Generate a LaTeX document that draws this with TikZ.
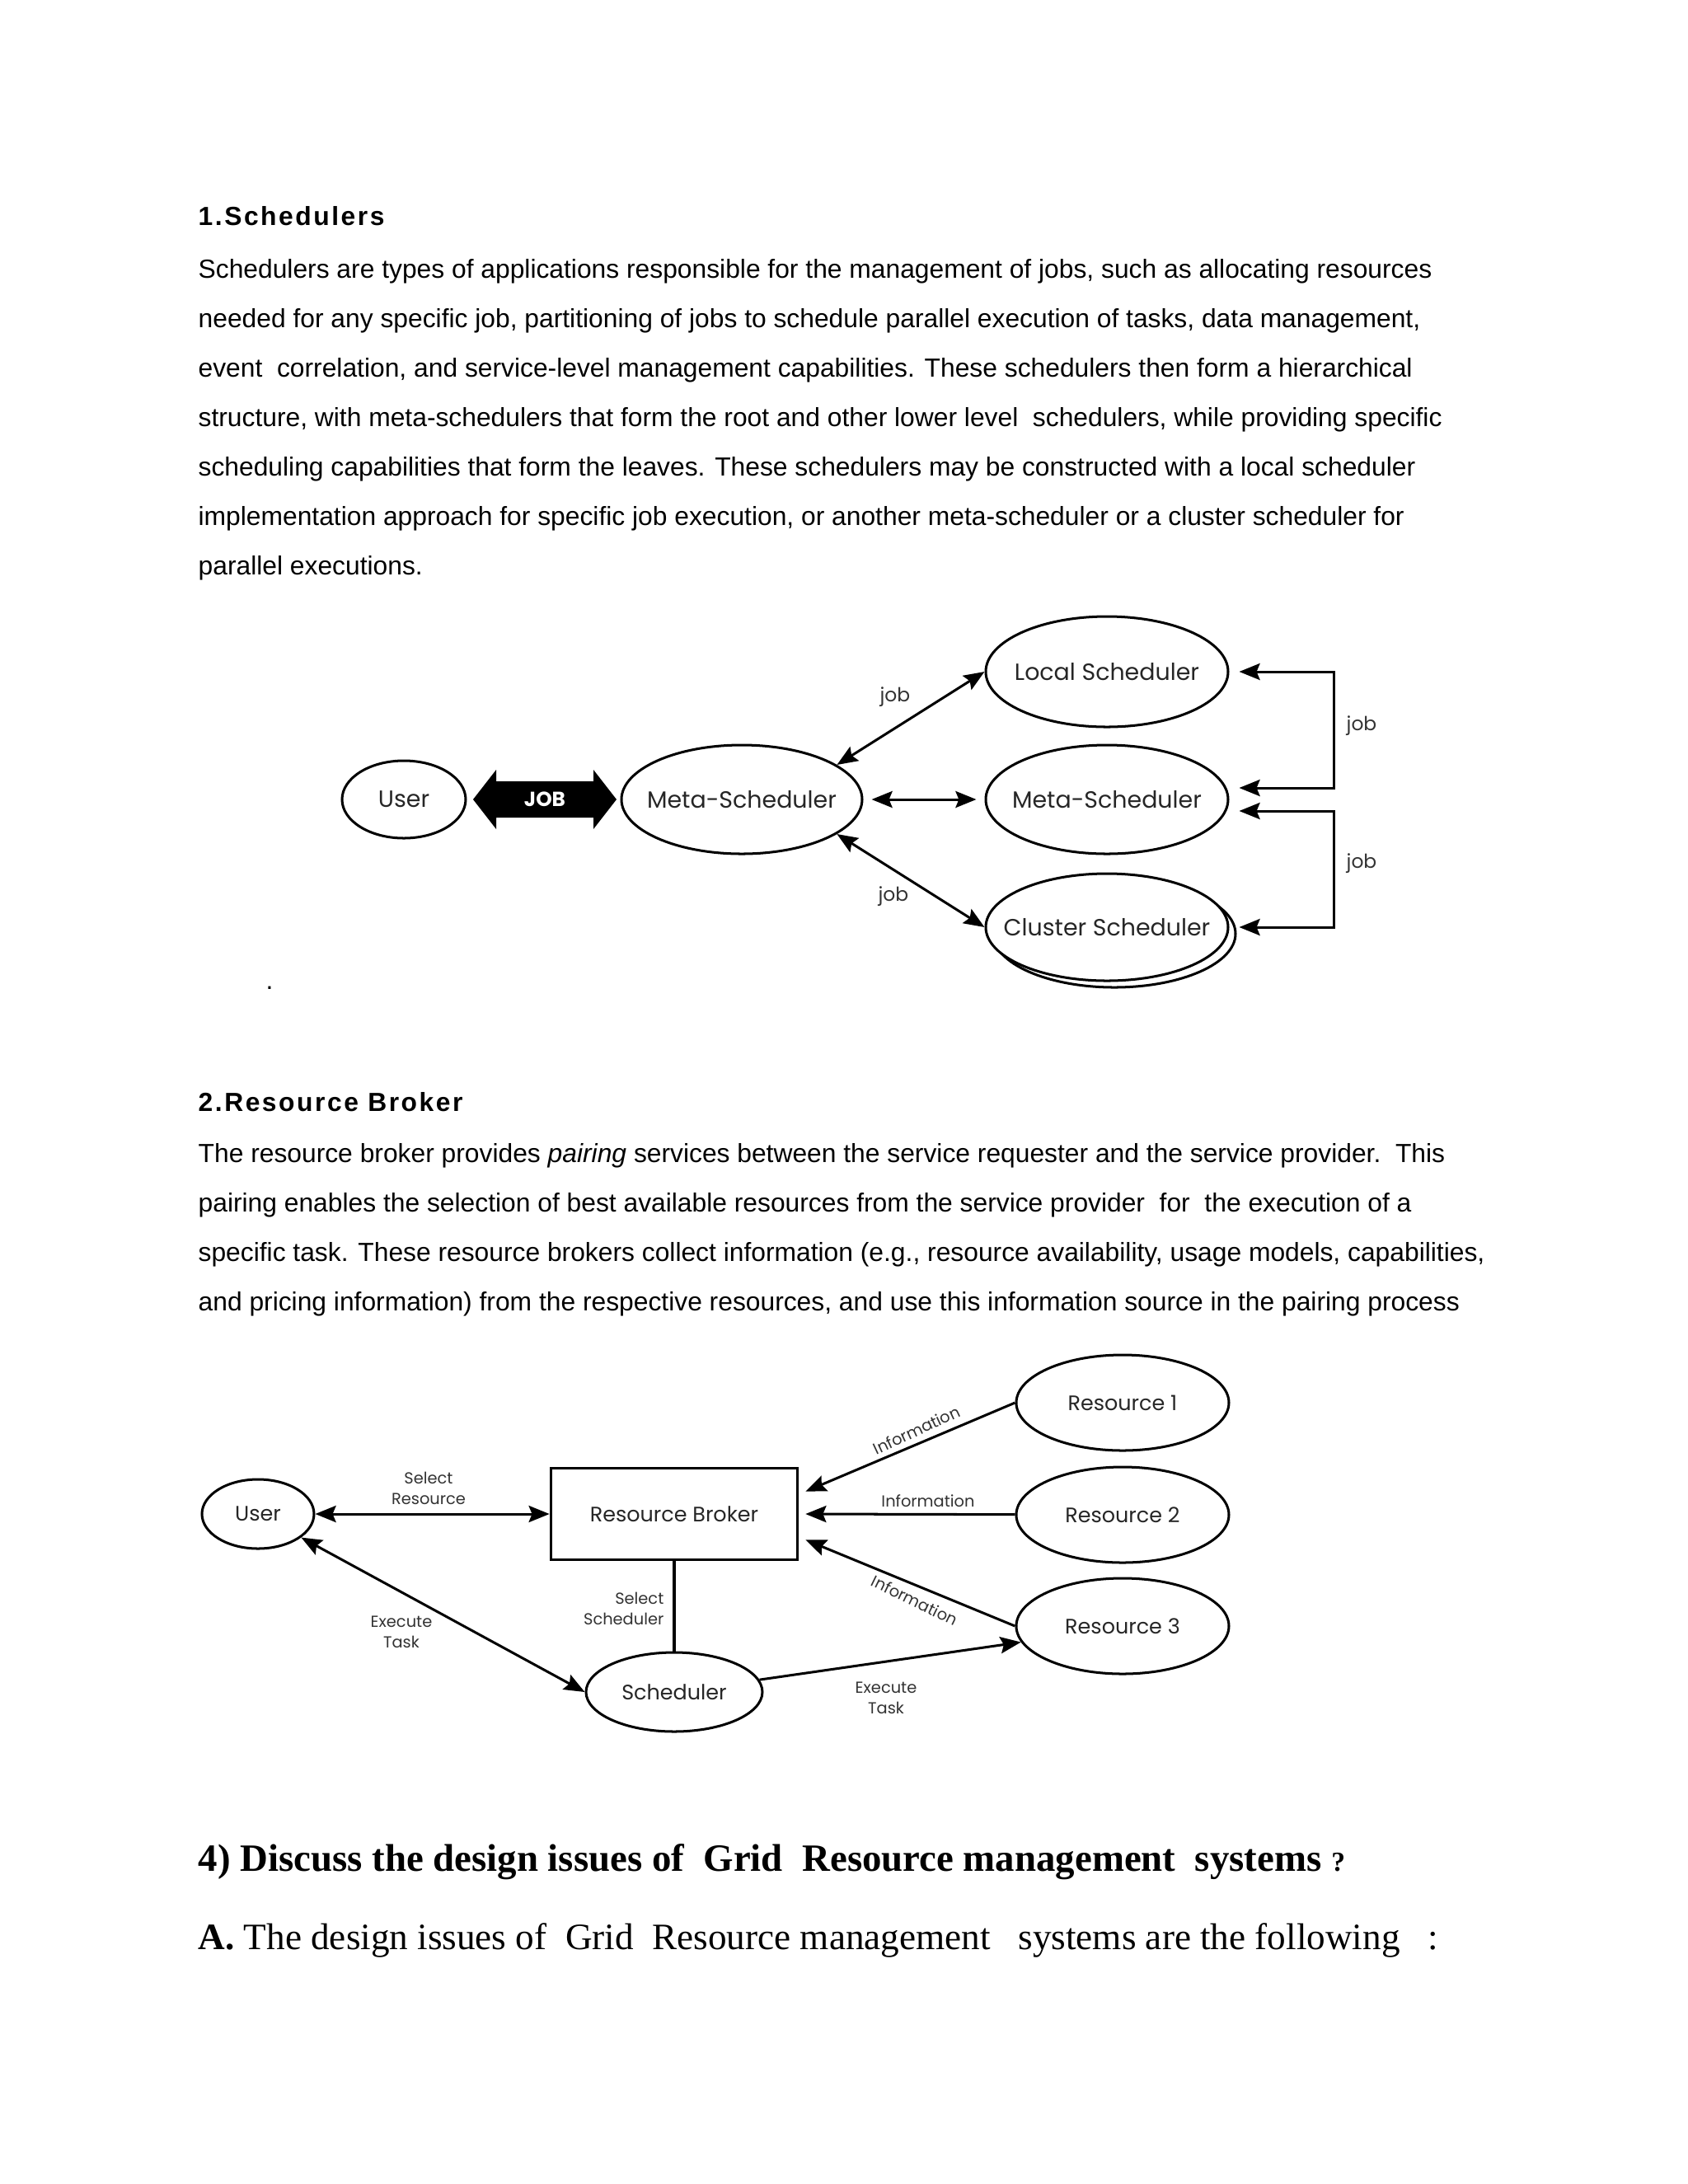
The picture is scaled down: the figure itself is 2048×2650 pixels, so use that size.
\documentclass[tikz,border=0pt]{standalone}
\usepackage{fontspec}
\setmainfont{Liberation Sans}
\newfontfamily\serifbody{Liberation Serif}
\newfontfamily\headfont[LetterSpace=8]{Liberation Sans}
\newfontfamily\fut{Poppins}
\usetikzlibrary{arrows.meta,shapes.geometric,positioning}
\newdimen\pxu
\pxu=0.298828pt

\begin{document}
\begin{tikzpicture}[x=0.298828pt,y=-0.298828pt,
  body/.style={anchor=base west,inner sep=0pt,font=\fontsize{9.5pt}{11pt}\selectfont},
  head/.style={anchor=base west,inner sep=0pt,font=\headfont\bfseries\fontsize{9.5pt}{11pt}\selectfont},
  oval/.style={ellipse,draw,line width=0.9pt,inner ysep=0pt,inner xsep=-20pt,fill=white,text=black!85,font=\fut\fontsize{8.5pt}{10pt}\selectfont},
  ovaltwo/.style={oval,font=\fut\fontsize{7.6pt}{9pt}\selectfont},
  lbl/.style={inner sep=0pt,text=black!80,align=center,font=\fut\fontsize{5.8pt}{7.4pt}\selectfont},
  joblbl/.style={lbl,font=\fut\fontsize{7pt}{8pt}\selectfont},
  twoway/.style={line width=0.9pt,{Stealth[length=7.5pt,width=6pt,inset=1.2pt]}-{Stealth[length=7.5pt,width=6pt,inset=1.2pt]}},
  oneway/.style={line width=0.9pt,-{Stealth[length=7.5pt,width=6pt,inset=1.2pt]}}]
\fill[white] (0,0) rectangle (2048,2650);
\useasboundingbox (0,0) rectangle (2048,2650);

\node[head] (hd1) at (240,273) {1.Schedulers};
\node[body] (txa1) at (240,337) {Schedulers are types of applications responsible for the management of jobs, such as allocating resources};
\node[body] (txa2) at (240,397) {needed for any specific job, partitioning of jobs to schedule parallel execution of tasks, data management,};
\node[body] (txa3) at (240,457) {event\ \ correlation, and service-level management capabilities. These schedulers then form a hierarchical};
\node[body] (txa4) at (240,517) {structure, with meta-schedulers that form the root and other lower level\ \ schedulers, while providing specific};
\node[body] (txa5) at (240,577) {scheduling capabilities that form the leaves. These schedulers may be constructed with a local scheduler};
\node[body] (txa6) at (240,637) {implementation approach for specific job execution, or another meta-scheduler or a cluster scheduler for};
\node[body] (txa7) at (240,697) {parallel executions.};

% schedulers
\node[oval,minimum width=150*\pxu,minimum height=94*\pxu] (user1) at (490,970) {User};
\fill (574,970) -- (602,934) -- (602,948) -- (720,948) -- (720,934) -- (748,970)
  -- (720,1006) -- (720,992) -- (602,992) -- (602,1006) -- cycle;
\node[text=white,inner sep=0pt,font=\fut\bfseries\fontsize{7.4pt}{9pt}\selectfont] (job) at (661,970) {JOB};
\node[oval,minimum width=292*\pxu,minimum height=132*\pxu] (meta1) at (900,970) {Meta-Scheduler};
\node[oval,minimum width=294*\pxu,minimum height=134*\pxu] (local) at (1343,815) {Local Scheduler};
\node[oval,minimum width=294*\pxu,minimum height=132*\pxu] (meta2) at (1343,970) {Meta-Scheduler};
\draw[line width=0.9pt] (1352,1133) ellipse (147 and 65);
\node[oval,minimum width=294*\pxu,minimum height=130*\pxu] (cluster) at (1343,1125) {Cluster Scheduler};

\draw[twoway] (meta1.20) -- (local.west);
\draw[twoway,shorten <=3pt,shorten >=3pt] (meta1) -- (meta2);
\draw[twoway] (meta1.-20) -- (cluster.west);
\node[joblbl] (joba) at (1086,846) {job};
\node[joblbl] (jobb) at (1084,1088) {job};

\coordinate (rail1) at (1618,885);
\coordinate (rail2) at (1618,1050);
\draw[twoway] ([xshift=12*\pxu]local.east) -| (rail1) |- ([xshift=12*\pxu,yshift=14*\pxu]meta2.east);
\draw[twoway] ([xshift=12*\pxu,yshift=-14*\pxu]meta2.east) -| (rail2) |- ([xshift=12*\pxu]cluster.east);
\node[joblbl] (jobc) at (1652,881) {job};
\node[joblbl] (jobd) at (1652,1048) {job};

\node[body] (dot) at (322,1200) {.};

\node[head] (hd2) at (240,1348) {2.Resource Broker};
\node[body] (txb1) at (240,1410) {The resource broker provides \textit{pairing} services between the service requester and the service provider.\ \ This};
\node[body] (txb2) at (240,1470) {pairing enables the selection of best available resources from the service provider\ \ for\ \ the execution of a};
\node[body] (txb3) at (240,1530) {specific task. These resource brokers collect information (e.g., resource availability, usage models, capabilities,};
\node[body] (txb4) at (240,1590) {and pricing information) from the respective resources, and use this information source in the pairing process};

% resource broker
\node[ovaltwo,minimum width=136*\pxu,minimum height=84*\pxu] (user2) at (313,1837) {User};
\node[draw,line width=1.1pt,inner sep=0pt,text=black!85,minimum width=299*\pxu,minimum height=111*\pxu,
  font=\fut\fontsize{7.6pt}{9pt}\selectfont] (broker) at (818,1837) {Resource Broker};
\node[ovaltwo,minimum width=258*\pxu,minimum height=116*\pxu] (res1) at (1362,1702) {Resource 1};
\node[ovaltwo,minimum width=258*\pxu,minimum height=116*\pxu] (res2) at (1362,1838) {Resource 2};
\node[ovaltwo,minimum width=258*\pxu,minimum height=116*\pxu] (res3) at (1362,1973) {Resource 3};
\node[ovaltwo,minimum width=214*\pxu,minimum height=96*\pxu] (sched) at (818,2053) {Scheduler};

\draw[twoway] (user2) -- (broker);
\draw[twoway] (user2) -- (sched.west);
\draw[line width=1.1pt] (broker) -- (sched);
\draw[oneway] (res1.west) -- ([xshift=8*\pxu,yshift=-30*\pxu]broker.north east);
\draw[oneway] (res2) -- ([xshift=8*\pxu]broker.east);
\draw[oneway] (res3.west) -- ([xshift=8*\pxu,yshift=26*\pxu]broker.south east);
\draw[oneway] (sched) -- (res3.189);

\node[lbl] (selres) at (520,1806) {Select\\Resource};
\node[lbl] (exec1) at (487,1980) {Execute\\Task};
\node[lbl,anchor=east,align=right] (selsch) at (806,1952) {Select\\Scheduler};
\node[lbl,rotate=25] (info1) at (1112,1735) {Information};
\node[lbl] (info2) at (1126,1821) {Information};
\node[lbl,rotate=-26] (info3) at (1110,1942) {Information};
\node[lbl] (exec2) at (1075,2060) {Execute\\Task};

\node[anchor=base west,inner sep=0pt,font=\serifbody\bfseries\fontsize{14pt}{16pt}\selectfont] (qfour) at (240,2270)
  {4) Discuss the design issues of\ \ Grid\ \ Resource management\ \ systems {\fontsize{10pt}{12pt}\selectfont ?}};
\node[anchor=base west,inner sep=0pt,font=\serifbody\fontsize{13.5pt}{16pt}\selectfont] (ans) at (240,2365)
  {\textbf{A.} The design issues of\ \ Grid\ \ Resource management\ \ \ systems are the following\ \ \ :};
\end{tikzpicture}
\end{document}
